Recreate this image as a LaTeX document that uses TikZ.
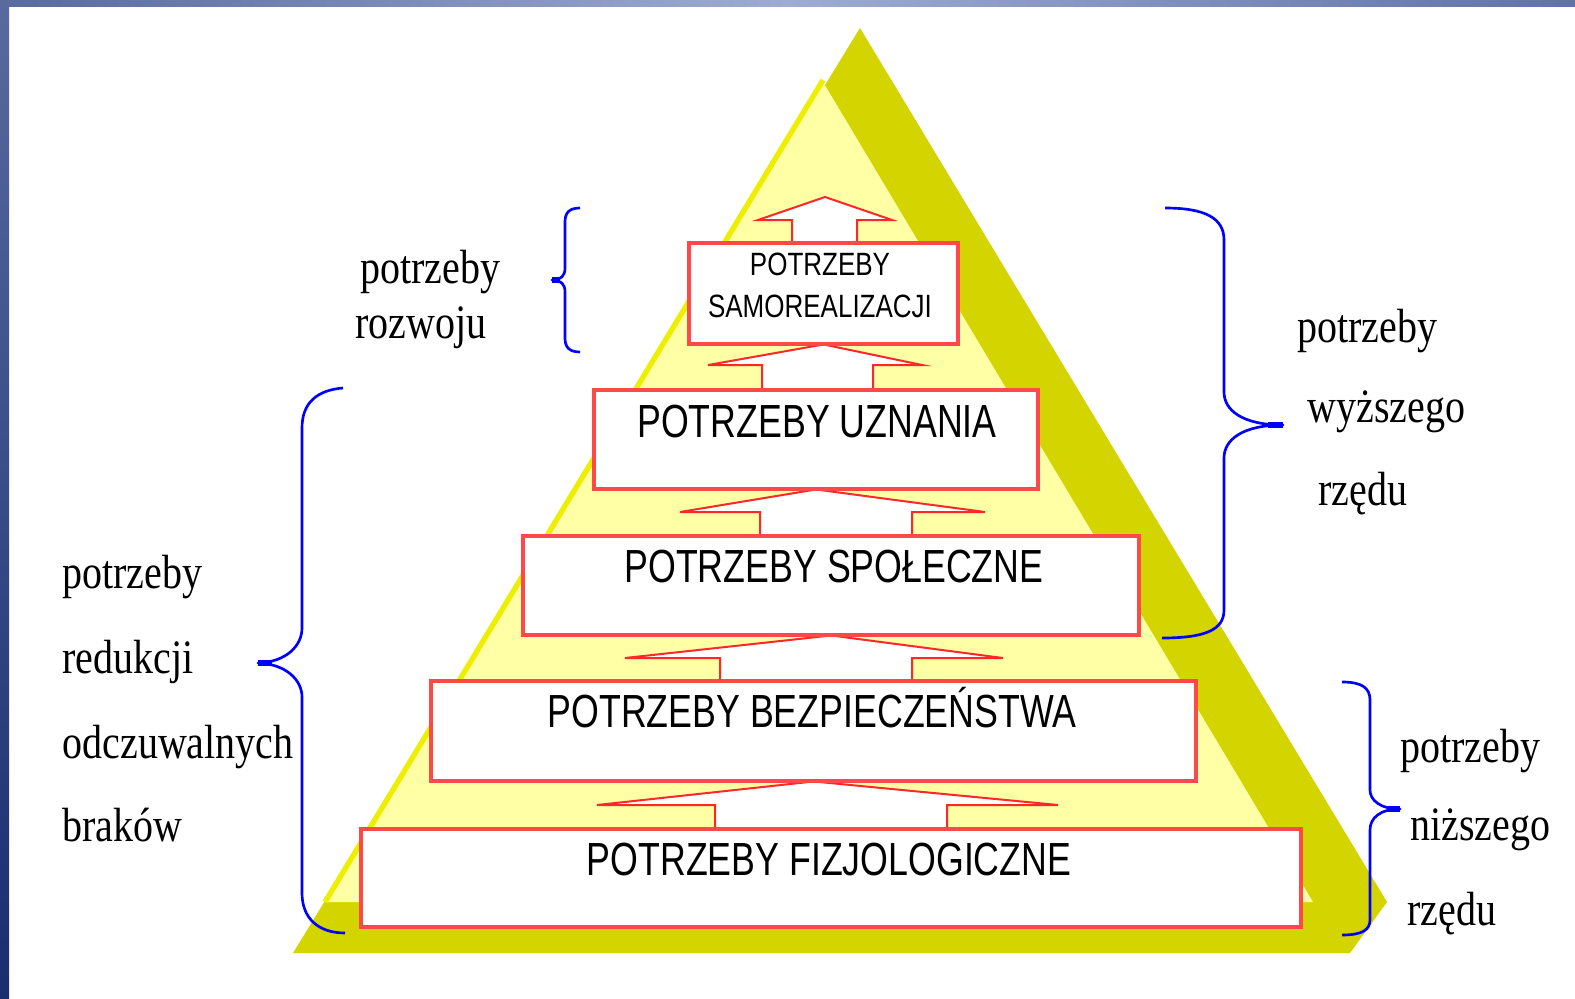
\documentclass[tikz,border=0pt]{standalone}
\usepackage{fontspec}
\setmainfont{Liberation Serif}
\newfontfamily\tierfont{Liberation Sans}
\usepackage{graphicx}

\definecolor{pyrdark}{RGB}{212,212,0}
\definecolor{pyrlight}{RGB}{255,255,165}
\definecolor{pyredge}{RGB}{238,238,0}
\definecolor{tierred}{RGB}{255,72,72}
\definecolor{arrred}{RGB}{255,40,40}
\definecolor{braceblue}{RGB}{0,0,255}
\definecolor{frametop}{RGB}{88,106,158}
\definecolor{framemid}{RGB}{158,172,210}
\definecolor{frameend}{RGB}{96,114,168}
\definecolor{framelow}{RGB}{25,45,112}

\newcommand\stretchtxt[2]{\scalebox{1}[#1]{#2}}

\tikzset{every picture/.style={line width=0.75pt},
  tier/.style={draw=tierred, fill=white, line width=2.2pt, inner sep=0pt},
  tiertext/.style={font=\tierfont\fontsize{26.8}{30}\selectfont, inner sep=0pt, anchor=base},
  toptext/.style={font=\tierfont\fontsize{19.5}{22}\selectfont, inner sep=0pt, anchor=base},
  liftarr/.style={draw=arrred, fill=white, line width=1.5pt, line join=miter},
  curly/.style={draw=braceblue, line width=2pt, line join=round},
  side/.style={font=\fontsize{30}{34}\selectfont, inner sep=0pt, anchor=base west}}

\begin{document}
\begin{tikzpicture}[x=0.75pt,y=0.75pt,yscale=-1,xscale=1]

\useasboundingbox (0,0) rectangle (1575,999);
\fill[white] (0,0) rectangle (1575,999);
\shade[top color=frametop, bottom color=framelow] (0,0) rectangle (9,999);
\shade[left color=frametop, right color=frameend, middle color=framemid] (0,0) rectangle (1575,7);

% pyramid
\fill[pyrdark] (293,953) -- (860,28) -- (1387,902) -- (1350,953) -- cycle ;
\fill[pyrlight] (327,902) -- (823,82) -- (1313,902) -- cycle ;
\draw[pyredge, line width=4pt] (325,902) -- (823,80) ;

\coordinate (peak) at (825,197);

% tiers
\node[tier, minimum width=200.25pt, minimum height=74.25pt] (sam) at (823.5,293.5) {};
\node[tier, minimum width=331.5pt, minimum height=72.75pt] (uzn) at (816,439.5) {};
\node[tier, minimum width=460.5pt, minimum height=72.75pt] (spo) at (831,585.5) {};
\node[tier, minimum width=572.25pt, minimum height=73.5pt] (bez) at (813.5,731) {};
\node[tier, minimum width=703.5pt, minimum height=72.75pt] (fiz) at (831,878) {};

% arrows between tiers
\filldraw[liftarr] (792,0 |- sam.north) -- (792,220) -- (758,220) -- (peak) -- (892,220) -- (857,220) -- (857,0 |- sam.north) ;
\filldraw[liftarr] (762,0 |- uzn.north) -- (762,365) -- (708,365) -- (sam.south) -- (922,365) -- (873,365) -- (873,0 |- uzn.north) ;
\filldraw[liftarr] (760,0 |- spo.north) -- (760,512) -- (680,512) -- (uzn.south) -- (985,512) -- (912,512) -- (912,0 |- spo.north) ;
\filldraw[liftarr] (720,0 |- bez.north) -- (720,658) -- (625,658) -- (spo.south) -- (1003,658) -- (912,658) -- (912,0 |- bez.north) ;
\filldraw[liftarr] (715,0 |- fiz.north) -- (715,805) -- (597,805) -- (bez.south) -- (1058,805) -- (947,805) -- (947,0 |- fiz.north) ;

\draw[tier, fill=none] (sam.south west) rectangle (sam.north east) ;
\draw[tier, fill=none] (uzn.south west) rectangle (uzn.north east) ;
\draw[tier, fill=none] (spo.south west) rectangle (spo.north east) ;
\draw[tier, fill=none] (bez.south west) rectangle (bez.north east) ;
\draw[tier, fill=none] (fiz.south west) rectangle (fiz.north east) ;

\node[toptext] (samtxt1) at (820,275) {\stretchtxt{1.24}{POTRZEBY}};
\node[toptext] (samtxt2) at (820,317) {\stretchtxt{1.24}{SAMOREALIZACJI}};
\node[tiertext] (uzntxt) at (817,437) {\stretchtxt{1.3}{POTRZEBY UZNANIA}};
\node[tiertext] (spotxt) at (834,582) {\stretchtxt{1.3}{POTRZEBY SPOŁECZNE}};
\node[tiertext] (beztxt) at (812,727) {\stretchtxt{1.3}{POTRZEBY BEZPIECZEŃSTWA}};
\node[tiertext] (fiztxt) at (829,875) {\stretchtxt{1.3}{POTRZEBY FIZJOLOGICZNE}};

% braces
\draw[curly] (580,208) .. controls (569,208) and (565,213) .. (565,222) -- (565,268) .. controls (565,276) and (561,280) .. (552,280) .. controls (561,280) and (565,284) .. (565,292) -- (565,338) .. controls (565,347) and (569,352) .. (580,352) ;
\draw[curly] (343,388) .. controls (318,390) and (302,402) .. (302,428) -- (302,628) .. controls (302,646) and (286,662) .. (258,663) .. controls (286,664) and (302,680) .. (302,697) -- (302,893) .. controls (302,918) and (318,933) .. (345,933) ;
\draw[curly] (1165,208) .. controls (1205,208) and (1224,218) .. (1224,240) -- (1224,392) .. controls (1224,410) and (1242,425) .. (1283,425) .. controls (1242,425) and (1224,440) .. (1224,458) -- (1224,610) .. controls (1224,630) and (1205,638) .. (1162,638) ;
\draw[curly] (1342,682) .. controls (1362,682) and (1370,688) .. (1370,700) -- (1370,790) .. controls (1370,800) and (1380,809) .. (1400,809) .. controls (1380,809) and (1370,818) .. (1370,830) -- (1370,920) .. controls (1370,930) and (1362,935) .. (1342,935) ;
\draw[curly, line width=4pt] (552,280) -- (560,280) ;
\draw[curly, line width=4pt] (258,663) -- (272,663) ;
\draw[curly, line width=4pt] (1283,425) -- (1268,425) ;
\draw[curly, line width=4pt] (1400,809) -- (1388,809) ;

% side labels
\node[side] (rozw1) at (360,283) {\stretchtxt{1.2}{potrzeby}};
\node[side] (rozw2) at (355,338) {\stretchtxt{1.2}{rozwoju}};
\node[side] (red1) at (62,588) {\stretchtxt{1.2}{potrzeby}};
\node[side] (red2) at (62,673) {\stretchtxt{1.2}{redukcji}};
\node[side] (red3) at (62,758) {\stretchtxt{1.2}{odczuwalnych}};
\node[side] (red4) at (62,841) {\stretchtxt{1.2}{braków}};
\node[side] (wyz1) at (1297,342) {\stretchtxt{1.2}{potrzeby}};
\node[side] (wyz2) at (1307,422) {\stretchtxt{1.2}{wyższego}};
\node[side] (wyz3) at (1318,505) {\stretchtxt{1.2}{rzędu}};
\node[side] (niz1) at (1400,762) {\stretchtxt{1.2}{potrzeby}};
\node[side] (niz2) at (1410,840) {\stretchtxt{1.2}{niższego}};
\node[side] (niz3) at (1407,925) {\stretchtxt{1.2}{rzędu}};

\end{tikzpicture}
\end{document}
